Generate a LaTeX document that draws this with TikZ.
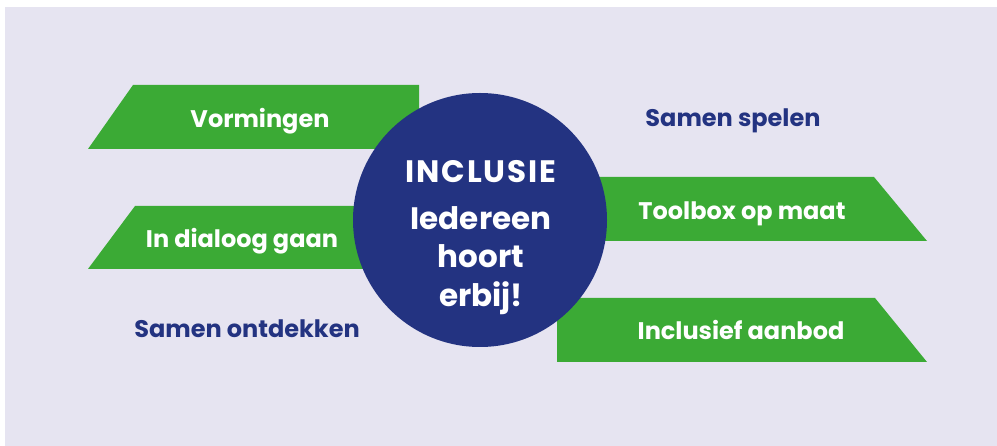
\documentclass[tikz,border=0pt]{standalone}
\usepackage{fontspec}
\setmainfont{Poppins}
\newfontfamily\popwide[LetterSpace=6]{Poppins}
\definecolor{bgc}{HTML}{E6E4F1}
\definecolor{grn}{HTML}{3BAA35}
\definecolor{navy}{HTML}{233381}
\tikzset{
  band/.style={fill=grn, draw=none},
  gtext/.style={text=white, font=\bfseries\fontsize{24}{28}\selectfont, inner sep=0pt, anchor=base},
  btext/.style={text=navy, font=\bfseries\fontsize{24}{28}\selectfont, inner sep=0pt, anchor=base},
  ctext/.style={text=white, font=\bfseries\fontsize{31}{36}\selectfont, inner sep=0pt, anchor=base},
}
\begin{document}
\begin{tikzpicture}[x=1pt,y=-1pt]
\useasboundingbox (0,0) rectangle (997,446);
\fill[bgc] (5,7) rectangle (997,446);
% green bands
\fill[band] (133,85) -- (419,85) -- (419,149) -- (88,149) -- cycle;
\fill[band] (135,206) -- (420,206) -- (420,269) -- (88,269) -- cycle;
\fill[band] (560,177) -- (874,177) -- (927,241) -- (560,241) -- cycle;
\fill[band] (557,298) -- (875,298) -- (927,362) -- (557,362) -- cycle;
% circle
\node[circle, fill=navy, minimum size=254pt, inner sep=0pt] (c) at (480,220) {};
% labels
\node[gtext] (v) at (260,128) {Vormingen};
\node[gtext] (d) at (242,248) {In dialoog gaan};
\node[gtext] (t) at (742,220) {Toolbox op maat};
\node[gtext] (a) at (741,340) {Inclusief aanbod};
\node[btext] (s) at (733,127) {Samen spelen};
\node[btext] (o) at (247,338) {Samen ontdekken};
\node[ctext, font=\popwide\bfseries\fontsize{31}{36}\selectfont] (i) at (481,183) {INCLUSIE};
\node[ctext] (h1) at (481,230) {Iedereen};
\node[ctext] (h2) at (481,268) {hoort};
\node[ctext] (h3) at (481,307) {erbij!};
\end{tikzpicture}
\end{document}
